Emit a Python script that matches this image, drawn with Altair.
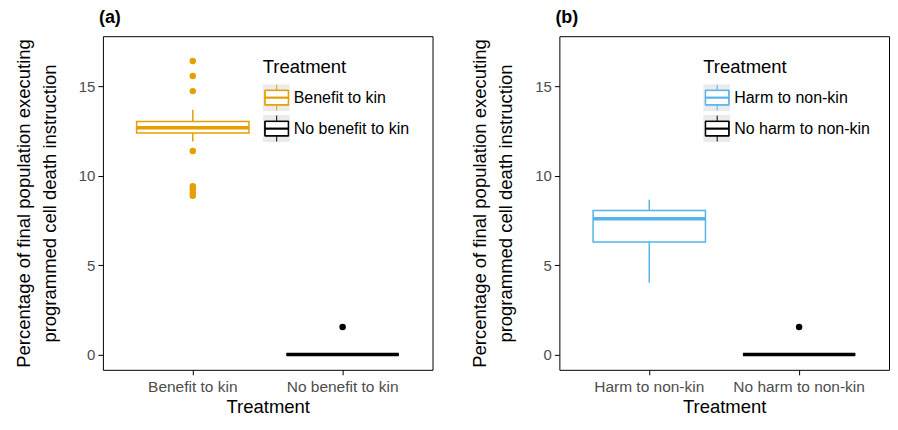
import altair as alt
import pandas as pd

FONT = "Liberation Sans"

# ---- data ----
# panel (a)
a_cats = ["Benefit to kin", "No benefit to kin"]
a_colors = ["#E69F00", "#000000"]
a_lo = [11.92, 0.0]
a_q1 = [12.39, 0.0]
a_med = [12.68, 0.0]
a_q3 = [13.03, 0.0]
a_hi = [13.69, 0.0]
a_out_cat = ["Benefit to kin"] * 8 + ["No benefit to kin"]
a_out_val = [16.41, 15.57, 14.73, 11.38, 9.41, 9.25, 9.05, 8.88, 1.55]

# panel (b)
b_cats = ["Harm to non-kin", "No harm to non-kin"]
b_colors = ["#56B4E9", "#000000"]
b_lo = [4.02, 0.0]
b_q1 = [6.30, 0.0]
b_med = [7.60, 0.0]
b_q3 = [8.06, 0.0]
b_hi = [8.66, 0.0]
b_out_cat = ["No harm to non-kin"]
b_out_val = [1.55]

y_ticks = [0, 5, 10, 15]
y_title = ["Percentage of final population executing", "programmed cell death instruction"]
x_title = "Treatment"
legend_title = "Treatment"

KEY_GREY = "#EBEBEB"
# legend key glyphs (unit square paths, scaled by the legend symbol size)
KEY_BG = "M-1,-1H1V1H-1Z M-0.89,-0.56V0.56H0.89V-0.56Z"
GLYPH = ("M-0.89,-0.56H0.89V0.56H-0.89Z "
         "M-0.85,-0.52V0.52H0.85V-0.52Z "
         "M-0.85,-0.04H0.85V0.04H-0.85Z "
         "M0,-0.56V-0.96 "
         "M0,0.56V0.96")

W, H = 330, 334


def legend_common(**kw):
    base = dict(
        orient="none", legendY=22, title=legend_title,
        titleFont=FONT, titleFontSize=18.5, titleFontWeight="normal", titleColor="black",
        labelFont=FONT, labelFontSize=16, labelColor="black",
        titlePadding=7.5, rowPadding=4, labelOffset=3, padding=0,
        symbolSize=729, symbolOpacity=1, clipHeight=27,
    )
    base.update(kw)
    return alt.Legend(**base)


def panel(title, cats, colors, lo, q1, med, q3, hi, out_cat, out_val, legend_x):
    box = pd.DataFrame({"Treatment": cats, "lo": lo, "q1": q1, "med": med,
                        "q3": q3, "hi": hi})
    out = pd.DataFrame({"Treatment": out_cat, "value": out_val})

    x = alt.X("Treatment:N", sort=cats,
              scale=alt.Scale(domain=cats, paddingInner=0.25, paddingOuter=0.225),
              axis=alt.Axis(title=x_title, labelAngle=0))
    yscale = alt.Scale(domain=[-0.85, 17.8], nice=False, zero=False)
    yaxis = alt.Axis(values=y_ticks, title=y_title)
    sscale = alt.Scale(domain=cats, range=colors)

    stroke_leg = alt.Stroke(
        "Treatment:N", scale=sscale,
        legend=legend_common(legendX=legend_x, symbolType=GLYPH,
                             symbolStrokeWidth=1))
    stroke = alt.Stroke("Treatment:N", scale=sscale, legend=None)

    base = alt.Chart(box).encode(x=x)

    # invisible layer that only provides the grey key backgrounds of the legend
    key_domain = [c + " " for c in cats]
    bg = base.mark_square(size=0, opacity=0).encode(
        y=alt.Y("med:Q", scale=yscale, axis=yaxis),
        color=alt.Color("Treatment:N",
                        scale=alt.Scale(domain=key_domain, range=[KEY_GREY] * len(cats)),
                        legend=legend_common(legendX=legend_x, symbolType=KEY_BG,
                                             title=" ", labelExpr="''",
                                             symbolStrokeWidth=0)))
    bx = base.mark_bar(fill="white", strokeWidth=1.5).encode(
        y=alt.Y("q1:Q", scale=yscale, axis=yaxis), y2="q3:Q", stroke=stroke_leg)
    md = base.mark_bar(fill="white", strokeWidth=3.5).encode(
        y=alt.Y("med:Q", scale=yscale, axis=yaxis), y2="med:Q", stroke=stroke)
    w1 = base.mark_rule(strokeWidth=1.5).encode(
        y=alt.Y("lo:Q", scale=yscale, axis=yaxis), y2="q1:Q", stroke=stroke)
    w2 = base.mark_rule(strokeWidth=1.5).encode(
        y=alt.Y("q3:Q", scale=yscale, axis=yaxis), y2="hi:Q", stroke=stroke)
    pts = alt.Chart(out).mark_circle(size=42, opacity=1).encode(
        x=x,
        y=alt.Y("value:Q", scale=yscale, axis=yaxis),
        fill=alt.Fill("Treatment:N", scale=alt.Scale(domain=cats, range=colors),
                      legend=None))

    return alt.layer(bg, bx, md, w1, w2, pts).properties(
        width=W, height=H,
        title=alt.TitleParams(title, anchor="start", frame="group", fontSize=18,
                              fontWeight="bold", font=FONT, color="black",
                              offset=9.5, dx=-4))


pa = panel("(a)", a_cats, a_colors, a_lo, a_q1, a_med, a_q3, a_hi,
           a_out_cat, a_out_val, 160)
pb = panel("(b)", b_cats, b_colors, b_lo, b_q1, b_med, b_q3, b_hi,
           b_out_cat, b_out_val, 144)

chart = alt.hconcat(pa, pb, spacing=36).resolve_scale(
    color="independent", stroke="independent", fill="independent",
    x="independent", y="independent",
).resolve_legend(
    color="independent", stroke="independent",
).properties(
    padding={"left": 5, "top": 0, "right": 0, "bottom": 0}
).configure_view(
    stroke="black", strokeWidth=1
).configure_axis(
    grid=False, domain=False,
    tickColor="black", tickSize=5, tickWidth=1,
    labelFont=FONT, labelColor="#4D4D4D",
    titleFont=FONT, titleFontSize=18.5, titleFontWeight="normal", titleColor="black",
).configure_axisX(
    labelFontSize=15.5, labelPadding=5, titlePadding=2,
).configure_axisY(
    labelFontSize=15, labelPadding=3, titlePadding=19, titleLineHeight=26,
)

chart.save("out.html", embed_options={"renderer": "svg", "actions": False})
